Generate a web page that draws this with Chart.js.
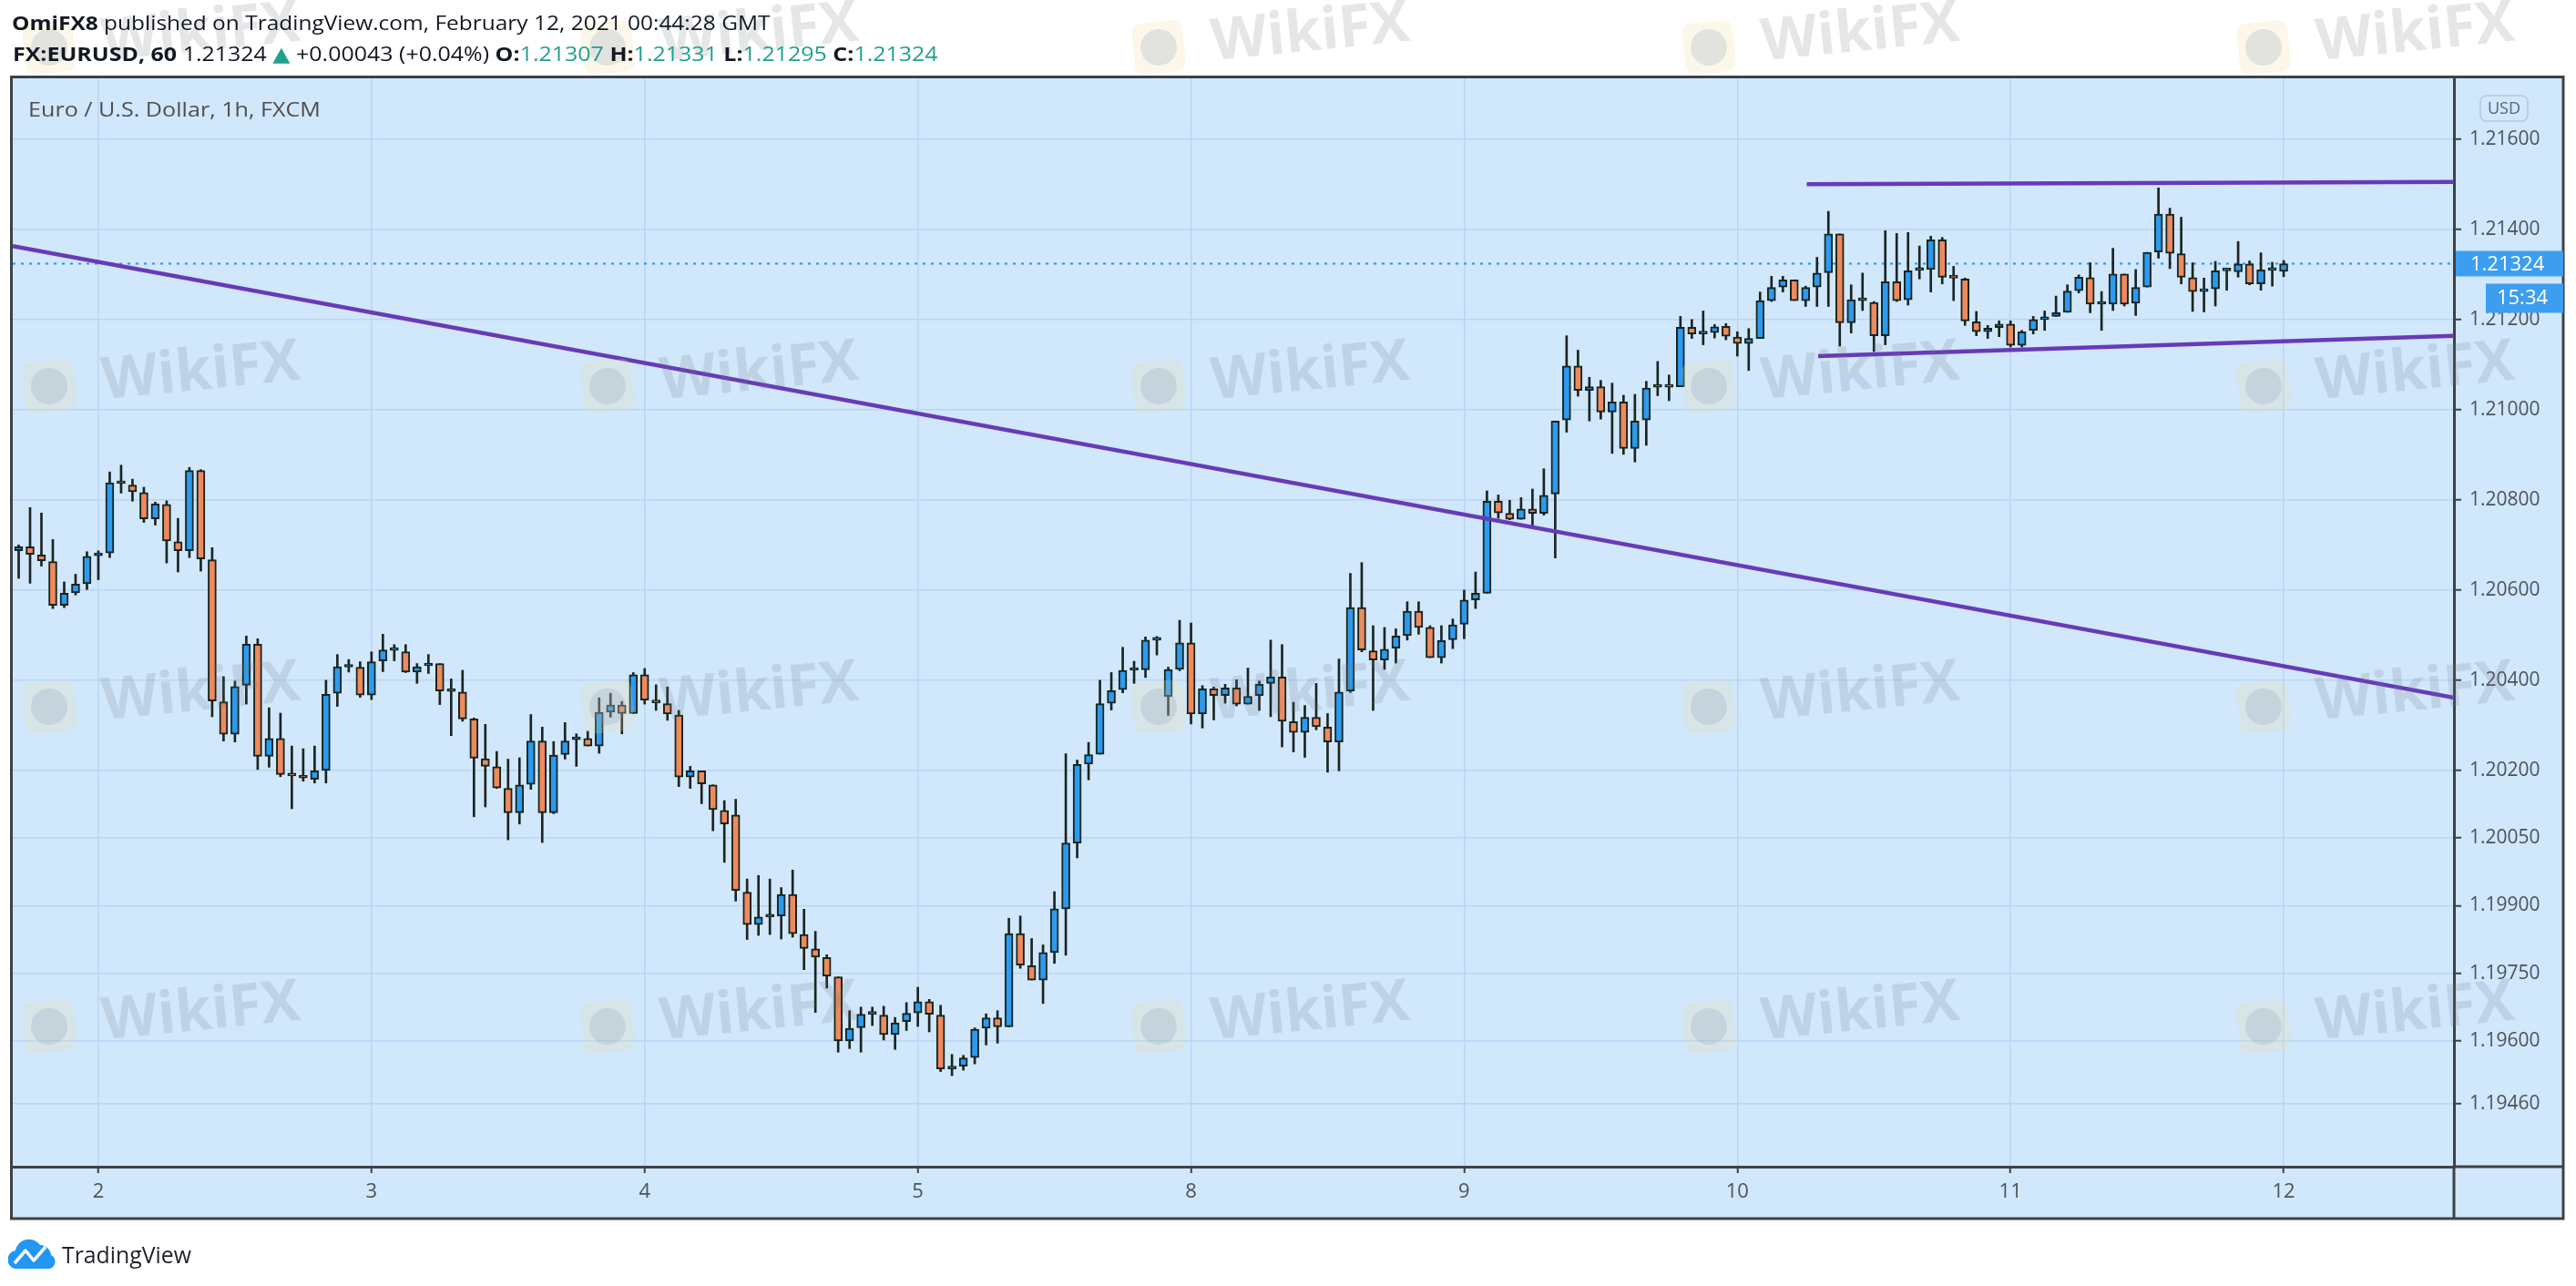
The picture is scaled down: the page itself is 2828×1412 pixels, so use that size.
<!DOCTYPE html>
<html>
<head>
<meta charset="utf-8">
<script src="https://cdn.jsdelivr.net/npm/chart.js@4.4.1/dist/chart.umd.min.js"></script>
<style>
html, body { margin: 0; padding: 0; background: #fff; }
body { width: 2828px; height: 1412px; position: relative; overflow: hidden; font-family: 'Open Sans', 'DejaVu Sans', sans-serif; }
#chart { position: absolute; left: 0; top: 0; }
.txt { position: absolute; white-space: nowrap; transform-origin: 0 50%; color: #131722; }
.b { font-weight: bold; }
.up { color: #22a08f; }
</style>
</head>
<body>
<canvas id="chart" width="2828" height="1412"></canvas>

<div class="txt fit" data-w="832" style="left:13px;top:9px;font-size:22px;line-height:30px"><span class="b">OmiFX8</span> published on TradingView.com, February 12, 2021 00:44:28 GMT</div>
<div class="txt fit" data-w="1016" style="left:14px;top:43px;font-size:22px;line-height:30px"><span class="b">FX:EURUSD, 60</span> 1.21324 <span class="up">▲</span> +0.00043 (+0.04%) <span class="b">O:</span><span class="up">1.21307</span> <span class="b">H:</span><span class="up">1.21331</span> <span class="b">L:</span><span class="up">1.21295</span> <span class="b">C:</span><span class="up">1.21324</span></div>
<div class="txt fit" data-w="321" style="left:31px;top:104px;font-size:22px;line-height:30px;color:#4f4f4f">Euro / U.S. Dollar, 1h, FXCM</div>

<svg width="56" height="36" viewBox="0 0 56 36" style="position:absolute;left:9px;top:1358px">
  <path d="M11 35 A10 10 0 0 1 8 15 A15 15 0 0 1 35 9 A12 12 0 0 1 47 20 A8 8 0 0 1 45 35 Z" fill="#2196f3"/>
  <polyline points="7,29 19,15 28,26 41,11" fill="none" stroke="#fff" stroke-width="3.5" stroke-linejoin="round"/>
</svg>
<div class="txt fit" data-w="142" style="left:68px;top:1361px;font-size:25px;line-height:32px;color:#1e222d">TradingView</div>

<script>
// hourly candles, index 0 = Feb 2 00:00 GMT
const firstHour = -7;

const opens = [
  1.20687, 1.20696, 1.20678, 1.20663, 1.20566, 1.20594, 1.20614,
  1.20676, 1.20682, 1.20838, 1.20833, 1.20816, 1.20758, 1.20790, 1.20707, 1.20687, 1.20865, 1.20667, 1.20352,
  1.20280, 1.20389, 1.20480, 1.20231, 1.20271, 1.20191, 1.20188, 1.20180, 1.20200, 1.20371, 1.20429, 1.20429,
  1.20367, 1.20443, 1.20466, 1.20463, 1.20418, 1.20432, 1.20437, 1.20376, 1.20374, 1.20314, 1.20226, 1.20208,
  1.20160, 1.20106, 1.20169, 1.20265, 1.20106, 1.20235, 1.20268, 1.20271, 1.20254, 1.20329, 1.20345, 1.20326,
  1.20412, 1.20355, 1.20348, 1.20323, 1.20185, 1.20199, 1.20168, 1.20111, 1.20101, 1.19930, 1.19858, 1.19875,
  1.19877, 1.19925, 1.19836, 1.19804, 1.19785, 1.19742, 1.19600, 1.19629, 1.19659, 1.19657, 1.19614, 1.19643,
  1.19662, 1.19687, 1.19657, 1.19538, 1.19544, 1.19563, 1.19628, 1.19651, 1.19631, 1.19838, 1.19767, 1.19735,
  1.19796, 1.19893, 1.20039, 1.20214, 1.20236, 1.20349, 1.20379, 1.20422, 1.20423, 1.20489, 1.20364, 1.20424,
  1.20483, 1.20325, 1.20381, 1.20366, 1.20383, 1.20347, 1.20366, 1.20393, 1.20407, 1.20308, 1.20284, 1.20318,
  1.20296, 1.20263, 1.20376, 1.20561, 1.20465, 1.20445, 1.20471, 1.20499, 1.20553, 1.20517, 1.20450, 1.20490,
  1.20524, 1.20578, 1.20593, 1.20797, 1.20770, 1.20757, 1.20780, 1.20770, 1.20813, 1.20977, 1.21097, 1.21043,
  1.21051, 1.20995, 1.21017, 1.20914, 1.20977, 1.21050, 1.21051, 1.21051, 1.21183, 1.21168, 1.21171, 1.21185,
  1.21161, 1.21147, 1.21158, 1.21242, 1.21272, 1.21288, 1.21242, 1.21272, 1.21304, 1.21390, 1.21193, 1.21242,
  1.21238, 1.21164, 1.21284, 1.21244, 1.21309, 1.21311, 1.21377, 1.21294, 1.21290, 1.21195, 1.21173, 1.21182,
  1.21190, 1.21143, 1.21176, 1.21200, 1.21207, 1.21216, 1.21264, 1.21293, 1.21234, 1.21234, 1.21301, 1.21236,
  1.21272, 1.21350, 1.21434, 1.21346, 1.21293, 1.21262, 1.21268, 1.21308, 1.21306, 1.21323, 1.21279, 1.21309,
  1.21307
];
const highs = [
  1.20700, 1.20783, 1.20771, 1.20712, 1.20618, 1.20635, 1.20685,
  1.20687, 1.20862, 1.20877, 1.20846, 1.20828, 1.20795, 1.20798, 1.20759, 1.20872, 1.20867, 1.20694, 1.20408,
  1.20398, 1.20498, 1.20492, 1.20339, 1.20327, 1.20254, 1.20248, 1.20254, 1.20400, 1.20457, 1.20446, 1.20441,
  1.20463, 1.20502, 1.20479, 1.20479, 1.20437, 1.20457, 1.20437, 1.20403, 1.20422, 1.20316, 1.20302, 1.20242,
  1.20225, 1.20228, 1.20324, 1.20296, 1.20264, 1.20306, 1.20281, 1.20287, 1.20361, 1.20371, 1.20353, 1.20417,
  1.20426, 1.20390, 1.20385, 1.20333, 1.20209, 1.20199, 1.20168, 1.20133, 1.20136, 1.19959, 1.19967, 1.19959,
  1.19940, 1.19979, 1.19892, 1.19843, 1.19791, 1.19742, 1.19667, 1.19675, 1.19675, 1.19677, 1.19652, 1.19685,
  1.19719, 1.19692, 1.19679, 1.19570, 1.19568, 1.19629, 1.19660, 1.19667, 1.19872, 1.19877, 1.19827, 1.19813,
  1.19931, 1.20237, 1.20223, 1.20262, 1.20400, 1.20417, 1.20473, 1.20442, 1.20496, 1.20497, 1.20429, 1.20533,
  1.20527, 1.20388, 1.20385, 1.20391, 1.20401, 1.20427, 1.20398, 1.20489, 1.20479, 1.20351, 1.20344, 1.20393,
  1.20326, 1.20447, 1.20637, 1.20661, 1.20521, 1.20517, 1.20514, 1.20574, 1.20574, 1.20521, 1.20521, 1.20536,
  1.20600, 1.20640, 1.20820, 1.20811, 1.20799, 1.20805, 1.20824, 1.20869, 1.20975, 1.21164, 1.21132, 1.21072,
  1.21065, 1.21059, 1.21032, 1.21034, 1.21063, 1.21107, 1.21077, 1.21207, 1.21200, 1.21219, 1.21189, 1.21191,
  1.21173, 1.21180, 1.21261, 1.21296, 1.21296, 1.21288, 1.21274, 1.21338, 1.21440, 1.21390, 1.21277, 1.21303,
  1.21240, 1.21397, 1.21391, 1.21393, 1.21363, 1.21385, 1.21382, 1.21318, 1.21292, 1.21218, 1.21187, 1.21197,
  1.21197, 1.21176, 1.21207, 1.21219, 1.21252, 1.21277, 1.21299, 1.21326, 1.21262, 1.21358, 1.21301, 1.21311,
  1.21349, 1.21492, 1.21447, 1.21427, 1.21326, 1.21292, 1.21329, 1.21314, 1.21373, 1.21330, 1.21348, 1.21327,
  1.21331
];
const lows = [
  1.20626, 1.20615, 1.20653, 1.20559, 1.20561, 1.20589, 1.20601,
  1.20623, 1.20672, 1.20815, 1.20797, 1.20750, 1.20744, 1.20660, 1.20640, 1.20672, 1.20642, 1.20319, 1.20265,
  1.20263, 1.20347, 1.20202, 1.20207, 1.20186, 1.20115, 1.20176, 1.20172, 1.20172, 1.20342, 1.20418, 1.20362,
  1.20357, 1.20419, 1.20443, 1.20417, 1.20393, 1.20415, 1.20346, 1.20277, 1.20309, 1.20097, 1.20119, 1.20160,
  1.20046, 1.20081, 1.20158, 1.20040, 1.20104, 1.20225, 1.20209, 1.20254, 1.20238, 1.20318, 1.20281, 1.20326,
  1.20347, 1.20333, 1.20311, 1.20164, 1.20160, 1.20126, 1.20066, 1.19996, 1.19910, 1.19825, 1.19834, 1.19836,
  1.19826, 1.19830, 1.19758, 1.19663, 1.19717, 1.19575, 1.19583, 1.19575, 1.19634, 1.19602, 1.19581, 1.19623,
  1.19632, 1.19620, 1.19532, 1.19523, 1.19535, 1.19549, 1.19591, 1.19595, 1.19631, 1.19761, 1.19735, 1.19683,
  1.19772, 1.19790, 1.20006, 1.20179, 1.20236, 1.20334, 1.20372, 1.20393, 1.20406, 1.20456, 1.20322, 1.20421,
  1.20303, 1.20294, 1.20312, 1.20349, 1.20343, 1.20347, 1.20333, 1.20319, 1.20252, 1.20241, 1.20229, 1.20290,
  1.20196, 1.20199, 1.20373, 1.20463, 1.20333, 1.20424, 1.20438, 1.20489, 1.20502, 1.20450, 1.20438, 1.20470,
  1.20492, 1.20559, 1.20593, 1.20759, 1.20756, 1.20757, 1.20743, 1.20766, 1.20671, 1.20950, 1.21030, 1.20975,
  1.20979, 1.20903, 1.20901, 1.20884, 1.20921, 1.21031, 1.21020, 1.21051, 1.21158, 1.21144, 1.21159, 1.21155,
  1.21119, 1.21087, 1.21158, 1.21240, 1.21261, 1.21242, 1.21229, 1.21229, 1.21229, 1.21141, 1.21170, 1.21220,
  1.21129, 1.21144, 1.21240, 1.21232, 1.21290, 1.21261, 1.21279, 1.21242, 1.21187, 1.21164, 1.21158, 1.21162,
  1.21139, 1.21139, 1.21168, 1.21176, 1.21207, 1.21216, 1.21259, 1.21215, 1.21176, 1.21220, 1.21230, 1.21209,
  1.21272, 1.21336, 1.21313, 1.21279, 1.21218, 1.21217, 1.21230, 1.21265, 1.21294, 1.21277, 1.21265, 1.21274,
  1.21295
];
const closes = [
  1.20696, 1.20679, 1.20665, 1.20566, 1.20593, 1.20613, 1.20675,
  1.20679, 1.20838, 1.20836, 1.20818, 1.20758, 1.20791, 1.20709, 1.20687, 1.20865, 1.20669, 1.20354, 1.20280,
  1.20386, 1.20480, 1.20231, 1.20271, 1.20191, 1.20188, 1.20183, 1.20199, 1.20369, 1.20430, 1.20431, 1.20367,
  1.20441, 1.20467, 1.20466, 1.20418, 1.20430, 1.20437, 1.20376, 1.20375, 1.20314, 1.20227, 1.20209, 1.20161,
  1.20106, 1.20168, 1.20265, 1.20106, 1.20234, 1.20265, 1.20270, 1.20254, 1.20329, 1.20345, 1.20326, 1.20412,
  1.20356, 1.20350, 1.20325, 1.20185, 1.20199, 1.20170, 1.20113, 1.20081, 1.19934, 1.19858, 1.19875, 1.19876,
  1.19925, 1.19838, 1.19805, 1.19786, 1.19744, 1.19600, 1.19628, 1.19659, 1.19659, 1.19614, 1.19640, 1.19661,
  1.19687, 1.19659, 1.19538, 1.19542, 1.19562, 1.19626, 1.19651, 1.19631, 1.19838, 1.19768, 1.19735, 1.19796,
  1.19893, 1.20039, 1.20213, 1.20235, 1.20348, 1.20377, 1.20422, 1.20423, 1.20489, 1.20490, 1.20424, 1.20483,
  1.20325, 1.20381, 1.20366, 1.20383, 1.20347, 1.20364, 1.20391, 1.20407, 1.20309, 1.20284, 1.20318, 1.20297,
  1.20263, 1.20374, 1.20561, 1.20467, 1.20445, 1.20469, 1.20498, 1.20553, 1.20517, 1.20450, 1.20488, 1.20523,
  1.20578, 1.20593, 1.20797, 1.20771, 1.20757, 1.20780, 1.20770, 1.20810, 1.20975, 1.21097, 1.21043, 1.21051,
  1.20995, 1.21017, 1.20914, 1.20975, 1.21048, 1.21051, 1.21050, 1.21183, 1.21168, 1.21168, 1.21184, 1.21163,
  1.21147, 1.21158, 1.21242, 1.21271, 1.21288, 1.21242, 1.21271, 1.21303, 1.21390, 1.21193, 1.21244, 1.21242,
  1.21164, 1.21284, 1.21242, 1.21308, 1.21310, 1.21377, 1.21294, 1.21292, 1.21197, 1.21173, 1.21181, 1.21190,
  1.21143, 1.21173, 1.21200, 1.21203, 1.21215, 1.21263, 1.21294, 1.21234, 1.21234, 1.21301, 1.21234, 1.21271,
  1.21349, 1.21434, 1.21347, 1.21294, 1.21262, 1.21265, 1.21308, 1.21310, 1.21323, 1.21279, 1.21310, 1.21310,
  1.21324
];

// time axis: day starts (hour index) and their labels
const dayTicks = [0, 24, 48, 72, 96, 120, 144, 168, 192];
const dayLabels = ['2', '3', '4', '5', '8', '9', '10', '11', '12'];

// price axis labels as printed on the chart
const priceTicks = [1.21600, 1.21400, 1.21200, 1.21000, 1.20800, 1.20600, 1.20400,
                    1.20200, 1.20050, 1.19900, 1.19750, 1.19600, 1.19460];

// drawn trend lines: [hour index, price]
const downTrend = [[-7.52, 1.21363], [207, 1.20361]];
const rangeTop = [[150.1, 1.21500], [207, 1.21505]];
const rangeBottom = [[151.1, 1.21119], [207, 1.21164]];

const lastPrice = 1.21324;
const countdown = '15:34';

const xMin = -7.52, xMax = 206.96;
const yMin = 1.19321, yMax = 1.21735;

const UP = '#2a9bf0';
const DOWN = '#ee8a5c';
const EDGE = '#17241e';
const PURPLE = '#673ab7';
const GRID = '#b7d6f5';
const AXIS = '#3d4247';
const BG = '#d1e7fc';

const bodyData = opens.map((o, i) => ({ x: firstHour + i, y: [o, closes[i]] }));
const wickData = lows.map((l, i) => ({ x: firstHour + i, y: [l, highs[i]] }));
const bodyColors = opens.map((o, i) => closes[i] >= o ? UP : DOWN);
const toPts = arr => arr.map(p => ({ x: p[0], y: p[1] }));

function roundRect(ctx, x, y, w, h, r) {
    ctx.beginPath();
    ctx.moveTo(x + r, y);
    ctx.arcTo(x + w, y, x + w, y + h, r);
    ctx.arcTo(x + w, y + h, x, y + h, r);
    ctx.arcTo(x, y + h, x, y, r);
    ctx.arcTo(x, y, x + w, y, r);
    ctx.closePath();
}

// faint watermark tiles
const wmCols = [54, 667, 1272, 1876, 2485];
const wmRows = [52, 424, 776, 1127];
function drawWatermark(ctx, cx, cy) {
    ctx.save();
    ctx.translate(cx, cy);
    ctx.rotate(-0.1);
    ctx.globalAlpha = 0.22;
    ctx.fillStyle = '#eee0a0';
    roundRect(ctx, -28, -28, 56, 56, 10);
    ctx.fill();
    ctx.fillStyle = '#8a97b5';
    ctx.beginPath();
    ctx.arc(0, 0, 20, 0, Math.PI * 2);
    ctx.fill();
    ctx.globalAlpha = 0.18;
    ctx.fillStyle = '#6f7780';
    ctx.font = 'bold 64px "Open Sans", "DejaVu Sans"';
    ctx.textBaseline = 'middle';
    ctx.fillText('WikiFX', 58, 2);
    ctx.restore();
}

const framePlugin = {
    id: 'frame',
    beforeDraw(chart) {
        const { ctx, chartArea } = chart;
        const xs = chart.scales.x, ys = chart.scales.y;
        ctx.save();
        ctx.fillStyle = BG;
        ctx.fillRect(chartArea.left - 1, chartArea.top - 1, ys.right - chartArea.left + 1, xs.bottom - chartArea.top + 1);
        ctx.restore();
    },
    afterDraw(chart) {
        const { ctx, chartArea } = chart;
        const xs = chart.scales.x, ys = chart.scales.y;

        wmRows.forEach(r => wmCols.forEach(c => drawWatermark(ctx, c, r)));

        ctx.save();
        ctx.strokeStyle = AXIS;
        ctx.lineWidth = 3;
        ctx.strokeRect(chartArea.left - 1.5, chartArea.top - 1.5, ys.right - chartArea.left + 1.5, xs.bottom - chartArea.top + 1.5);
        ctx.beginPath();
        ctx.moveTo(ys.left, xs.top);
        ctx.lineTo(ys.right, xs.top);
        ctx.moveTo(ys.left, xs.top);
        ctx.lineTo(ys.left, xs.bottom);
        ctx.stroke();

        // USD badge
        const ux = ys.left + 29, uy = chartArea.top + 19;
        ctx.lineWidth = 1.5;
        ctx.strokeStyle = '#b9c8d8';
        roundRect(ctx, ux, uy, 52, 28, 7);
        ctx.stroke();
        ctx.fillStyle = '#5d6370';
        ctx.font = '18px "Open Sans", "DejaVu Sans"';
        ctx.textAlign = 'center';
        ctx.textBaseline = 'middle';
        ctx.fillText('USD', ux + 26, uy + 15);

        // last price + countdown labels
        const py = ys.getPixelForValue(lastPrice);
        ctx.fillStyle = '#3d9ef0';
        ctx.fillRect(ys.left + 2, py - 14, ys.right - ys.left - 2, 28);
        ctx.fillRect(ys.left + 35, py + 22, ys.right - ys.left - 35, 32);
        ctx.fillStyle = '#ffffff';
        ctx.font = '22px "Open Sans", "DejaVu Sans"';
        ctx.textAlign = 'left';
        ctx.fillText(lastPrice.toFixed(5), ys.left + 18, py + 1);
        ctx.textAlign = 'center';
        ctx.fillText(countdown, ys.left + 75, py + 38);
        ctx.restore();
    }
};

const lineStyle = { type: 'line', borderColor: PURPLE, borderWidth: 4.5, pointRadius: 0, fill: false, order: 0 };

new Chart(document.getElementById('chart'), {
    type: 'bar',
    data: {
        datasets: [
            Object.assign({ data: toPts(downTrend) }, lineStyle),
            Object.assign({ data: toPts(rangeTop) }, lineStyle),
            Object.assign({ data: toPts(rangeBottom) }, lineStyle),
            {
                type: 'line',
                data: [{ x: xMin, y: lastPrice }, { x: xMax, y: lastPrice }],
                borderColor: '#2196f3',
                borderWidth: 2,
                borderDash: [3, 6],
                pointRadius: 0,
                order: 3
            },
            {
                data: wickData,
                backgroundColor: '#1b2420',
                barThickness: 2,
                grouped: false,
                order: 2
            },
            {
                data: bodyData,
                backgroundColor: bodyColors,
                borderColor: EDGE,
                borderWidth: 2,
                borderSkipped: false,
                barThickness: 9,
                minBarLength: 3,
                grouped: false,
                order: 1
            }
        ]
    },
    options: {
        responsive: false,
        animation: false,
        events: [],
        layout: { padding: { left: 14, right: 14, top: 86, bottom: 74 } },
        plugins: { legend: { display: false }, tooltip: { enabled: false } },
        scales: {
            x: {
                type: 'linear',
                min: xMin,
                max: xMax,
                offset: false,
                afterBuildTicks: s => { s.ticks = dayTicks.map(v => ({ value: v })); },
                afterFit: s => { s.height = 57; },
                grid: { color: GRID, lineWidth: 1.5, offset: false, tickColor: AXIS, tickLength: 7, tickWidth: 2 },
                border: { color: AXIS, width: 3 },
                ticks: {
                    autoSkip: false,
                    maxRotation: 0,
                    padding: 8,
                    color: '#4c525e',
                    font: { family: '"Open Sans", "DejaVu Sans"', size: 22 },
                    callback: v => dayLabels[dayTicks.indexOf(v)]
                }
            },
            y: {
                type: 'linear',
                position: 'right',
                min: yMin,
                max: yMax,
                beginAtZero: false,
                afterBuildTicks: s => { s.ticks = priceTicks.map(v => ({ value: v })); },
                afterFit: s => { s.width = 120; },
                grid: { color: GRID, lineWidth: 1.5, tickColor: AXIS, tickLength: 8, tickWidth: 2 },
                border: { color: AXIS, width: 3 },
                ticks: {
                    autoSkip: false,
                    padding: 9,
                    color: '#4c525e',
                    font: { family: '"Open Sans", "DejaVu Sans"', size: 21 },
                    callback: v => v.toFixed(5)
                }
            }
        }
    },
    plugins: [framePlugin]
});

// squeeze header/footer text to the widths seen on the picture
function fitTexts() {
    document.querySelectorAll('.fit').forEach(el => {
        el.style.transform = '';
        const w = el.scrollWidth;
        el.style.transform = 'scaleX(' + (Number(el.dataset.w) / w) + ')';
    });
}
fitTexts();
document.fonts.ready.then(fitTexts);
</script>
</body>
</html>
